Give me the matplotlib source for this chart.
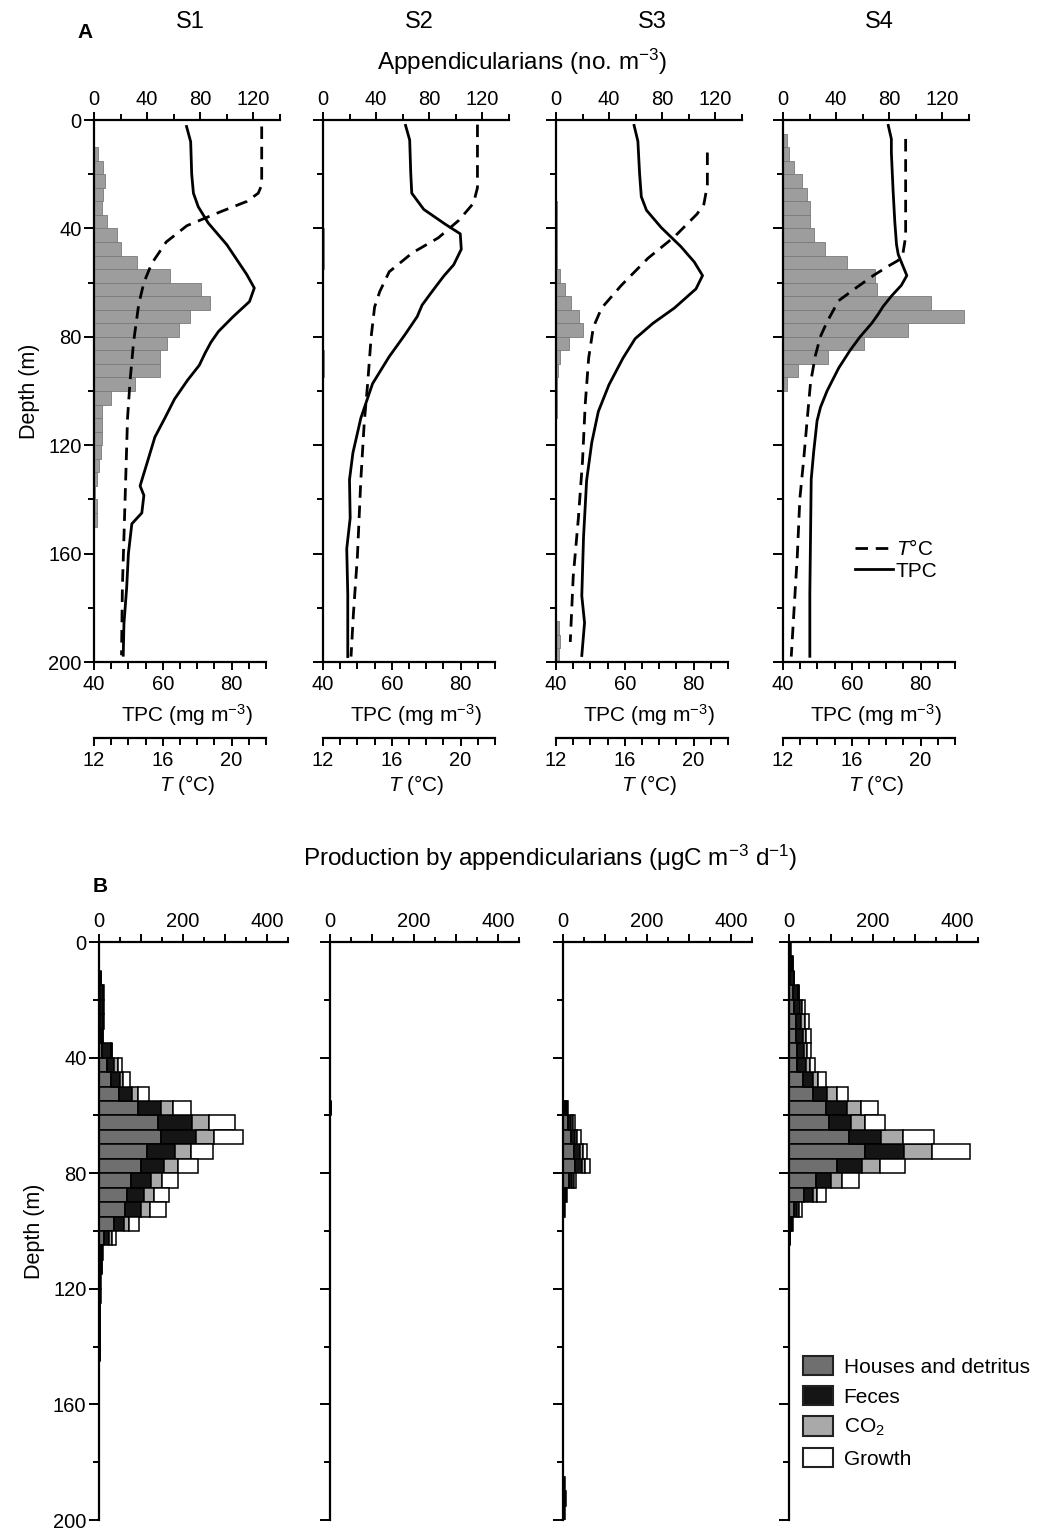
import numpy as np
import matplotlib
matplotlib.use("Agg")
import matplotlib.pyplot as plt
from matplotlib.patches import Patch
from matplotlib.ticker import FixedLocator, FixedFormatter

plt.rcParams['font.family'] = ['Liberation Sans', 'DejaVu Sans']
plt.rcParams['mathtext.fontset'] = 'custom'
plt.rcParams['mathtext.rm'] = 'Liberation Sans'
plt.rcParams['mathtext.it'] = 'Liberation Sans:italic'

W, H = 1049, 1530

# ---- data ----
stations = ["S1", "S2", "S3", "S4"]
bins = np.arange(0, 200, 5)  # 5 m depth bins (top edges)

# Appendicularians (no. m-3) per 5 m bin
s1_app = [0, 0, 3, 7, 8.6, 7, 6, 10, 17, 20.5, 32, 57, 80.5, 87, 72, 64, 55, 50, 50, 31,
          13, 6, 6, 6, 5, 3.5, 2, 1, 2, 2, 0, 0, 0, 0, 0, 0, 0, 0, 0, 0]
s2_app = [0, 0, 0, 0, 0, 0, 0, 0, 0.8, 0.8, 0.8, 0, 0, 0, 0, 0, 0, 0.5, 0.5, 0,
          0, 0, 0, 0, 0, 0, 0, 0, 0, 0, 0, 0, 0, 0, 0, 0, 0, 0, 0, 0]
s3_app = [0, 0, 0, 0, 0, 0, 0.8, 0.8, 0.8, 0.8, 0.8, 3.3, 7, 11.4, 17, 20, 10, 3.3, 1.5, 0.8,
          0.8, 0.8, 0, 0, 0, 0, 0, 0, 0, 0, 0, 0, 0, 0, 0, 0, 0, 2, 3, 2]
s4_app = [0, 2.8, 4.6, 8.4, 14, 17.7, 20.5, 20.5, 23, 31.6, 48, 69, 71, 111.6, 136, 94, 61, 33.7, 11.6, 2.8,
          0, 0, 0, 0, 0, 0, 0, 0, 0, 0, 0, 0, 0, 0, 0, 0, 0, 0, 0, 0]
app = [s1_app, s2_app, s3_app, s4_app]

# TPC (mg m-3) profiles
s1_tpc_z = [2.4, 8, 20, 27, 32, 38, 46, 57, 62, 67, 72.5, 78, 82, 86, 90.5, 96, 103, 110, 117, 125, 135, 138.5, 145, 149, 160, 172.5, 186, 197.5]
s1_tpc = [66.9, 68.1, 68.4, 68.9, 70.3, 73.2, 78.6, 84.4, 86.6, 85.2, 80.5, 76.2, 74.0, 72.3, 70.6, 67.2, 63.4, 60.6, 57.7, 55.8, 53.4, 54.5, 53.9, 51.0, 50.0, 49.5, 48.7, 48.5]
s2_tpc_z = [2, 7.4, 19.4, 27, 33, 38.5, 42, 47.7, 53.4, 57.6, 63.3, 68.3, 72.5, 78.9, 87.4, 97.3, 110, 122.8, 132.7, 146.9, 158.2, 175, 198]
s2_tpc = [64, 65.2, 65.5, 65.8, 69.3, 75.6, 79.9, 80.2, 78, 75.1, 71.7, 68.8, 67.4, 64, 59.2, 54.4, 51, 48.7, 47.7, 47.9, 46.9, 47.2, 47.2]
s3_tpc_z = [2, 7.8, 19.8, 28.3, 33.3, 39.7, 46.7, 52.4, 57.4, 62.3, 69.4, 75, 80.7, 87.8, 97.7, 107.6, 119, 133, 154, 175.6, 185.5, 197.6]
s3_tpc = [62.7, 63.8, 64.3, 64.8, 66.3, 70.6, 76.3, 80.2, 82.6, 80.7, 74.4, 68.2, 63.0, 59.5, 55.4, 52.3, 50.4, 48.9, 48, 47.5, 48.3, 47.5]
s4_tpc_z = [2, 7, 12, 26, 37.6, 46, 49.6, 54, 57.4, 61, 65, 68.8, 71.6, 75, 80, 85, 91.5, 100, 106, 111, 122.7, 132.6, 153.9, 175, 197.9]
s4_tpc = [70.6, 71.5, 71.5, 72, 72.5, 73, 73.5, 74.9, 76, 74.4, 71.5, 69.1, 67.7, 65.8, 62.4, 59.5, 56.2, 52.8, 50.9, 49.9, 48.9, 48.2, 48, 47.8, 47.8]
tpc_z = [s1_tpc_z, s2_tpc_z, s3_tpc_z, s4_tpc_z]
tpc = [s1_tpc, s2_tpc, s3_tpc, s4_tpc]

# Temperature (deg C) profiles
s1_t_z = [2.4, 24, 27, 30, 34, 39, 45, 53, 60, 68, 82, 96, 110, 131, 152, 172.5, 197.5]
s1_t = [21.75, 21.75, 21.55, 20.9, 19.3, 17.4, 16.2, 15.35, 14.9, 14.6, 14.3, 14.1, 13.95, 13.85, 13.75, 13.65, 13.6]
s2_t_z = [1.7, 25, 30.7, 37, 43.5, 49, 56, 63.3, 69, 80, 97, 111.5, 132.7, 161, 182, 198]
s2_t = [20.98, 20.98, 20.75, 19.9, 18.7, 17.2, 15.85, 15.3, 15.0, 14.8, 14.6, 14.4, 14.2, 14.0, 13.77, 13.63]
s3_t_z = [12, 24, 31, 34.7, 43, 51, 61, 69.4, 76.5, 87.8, 104.8, 126, 147, 168.6, 192.6]
s3_t = [20.8, 20.8, 20.6, 20.2, 18.9, 17.35, 15.8, 14.65, 14.17, 13.9, 13.7, 13.54, 13.3, 13.0, 12.83]
s4_t_z = [7, 43, 49, 51.8, 54, 57.4, 61.7, 66.7, 74.5, 80, 87, 97, 111, 125.5, 139.7, 161, 182, 198]
s4_t = [19.13, 19.13, 18.98, 18.7, 18.1, 17.25, 16.3, 15.23, 14.56, 14.17, 13.88, 13.6, 13.4, 13.2, 12.98, 12.83, 12.63, 12.48]
t_z = [s1_t_z, s2_t_z, s3_t_z, s4_t_z]
temp = [s1_t, s2_t, s3_t, s4_t]

# Production (ugC m-3 d-1) per 5 m bin
s1_houses = [0, 0, 1, 2, 2, 2, 2, 8, 20, 29, 48, 94, 141, 147, 115, 99, 77, 67, 63, 36,
             12, 3, 2, 1, 1, 1, 1, 0.5, 0.5, 0, 0.5, 0, 0, 0, 0, 0, 0, 0, 0.5, 0]
s1_feces = [0.5, 0.5, 3, 7, 7, 7, 6, 21, 16, 20, 30, 53, 81, 83, 67, 56, 46, 40, 38, 24,
            12, 4, 3, 2, 2, 2, 1, 1, 1, 0.5, 0.5, 0, 0, 0.5, 0, 0.5, 0, 0, 0.5, 0]
s1_co2 = [0, 0, 0, 1, 1, 1, 1, 1, 9, 8, 16, 29, 41, 44, 36, 32, 26, 24, 21, 12,
          8, 1, 1, 0.5, 0.5, 0, 0, 0, 0, 0, 0, 0, 0, 0, 0, 0, 0, 0, 0, 0]
s1_growth = [0, 0, 0, 1, 1, 1, 1, 1, 9, 16, 24, 44, 60, 69, 53, 48, 40, 36, 37, 24,
             9, 2, 1, 0.5, 0.5, 0, 0, 0, 0, 0, 0, 0, 0, 0, 0, 0, 0, 0, 0, 0]
s2_houses = [0, 0, 0, 0, 0, 0, 0, 0, 0, 0, 0.5, 1, 0.5, 0, 0, 0, 0, 0, 0, 0,
             0, 0, 0, 0, 0, 0, 0, 0, 0, 0, 0, 0, 0, 0, 0, 0, 0, 0, 0, 0]
s2_feces = [0, 0, 0, 0, 0, 0, 0, 0, 0, 0, 0.5, 1, 0.5, 0, 0, 0, 0, 0, 0, 0,
            0, 0, 0, 0, 0, 0, 0, 0, 0, 0, 0, 0, 0, 0, 0, 0, 0, 0, 0, 0]
s2_co2 = [0] * 40
s2_growth = [0] * 40
s3_houses = [0, 0, 0, 0, 0, 0, 0, 0, 0, 0, 0, 5, 12, 18, 26, 29, 14, 4, 2, 0,
             0, 0, 0, 0, 0, 0, 0, 0, 0, 0, 0, 0, 0, 0, 0, 0, 0, 2, 3, 2]
s3_feces = [0, 0, 0, 0, 0, 0, 0, 0, 0, 0, 0, 3, 7, 11, 14, 16, 8, 3, 1, 0,
            0, 0, 0, 0, 0, 0, 0, 0, 0, 0, 0, 0, 0, 0, 0, 0, 0, 1, 2, 1]
s3_co2 = [0, 0, 0, 0, 0, 0, 0, 0, 0, 0, 0, 2, 4, 5, 8, 8, 4, 1, 0.5, 0,
          0, 0, 0, 0, 0, 0, 0, 0, 0, 0, 0, 0, 0, 0, 0, 0, 0, 0.5, 0.5, 0.5]
s3_growth = [0, 0, 0, 0, 0, 0, 0, 0, 0, 0, 0, 2, 5, 8, 10, 12, 6, 2, 0.5, 0,
             0, 0, 0, 0, 0, 0, 0, 0, 0, 0, 0, 0, 0, 0, 0, 0, 0, 0.5, 0.5, 0.5]
s4_houses = [1, 2, 3, 9, 13, 16, 17, 19, 19, 33, 57, 89, 95, 143, 180, 114, 65, 35, 12, 4,
             1, 0, 0, 0, 0, 0, 0, 0, 0, 0, 0, 0, 0, 0, 0, 0, 0, 0, 0, 0]
s4_feces = [2, 6, 8, 13, 12, 13, 16, 16, 22, 24, 34, 50, 52, 77, 94, 60, 36, 21, 8, 3,
            1, 0, 0, 0, 0, 0, 0, 0, 0, 0, 0, 0, 0, 0, 0, 0, 0, 0, 0, 0]
s4_co2 = [0.5, 1, 1, 1, 6, 8, 8, 9, 8, 12, 23, 32, 35, 52, 67, 43, 26, 11, 4, 1,
          0.5, 0, 0, 0, 0, 0, 0, 0, 0, 0, 0, 0, 0, 0, 0, 0, 0, 0, 0, 0]
s4_growth = [0.5, 1, 1, 1, 6, 10, 12, 9, 14, 18, 26, 41, 47, 73, 90, 60, 40, 22, 6, 2,
             0.5, 0, 0, 0, 0, 0, 0, 0, 0, 0, 0, 0, 0, 0, 0, 0, 0, 0, 0, 0]
prod = [
    [s1_houses, s1_feces, s1_co2, s1_growth],
    [s2_houses, s2_feces, s2_co2, s2_growth],
    [s3_houses, s3_feces, s3_co2, s3_growth],
    [s4_houses, s4_feces, s4_co2, s4_growth],
]
prod_labels = ["Houses and detritus", "Feces", "CO$_2$", "Growth"]
prod_colors = ["#6f6f6f", "#151515", "#a9a9a9", "#ffffff"]

# ---- layout (pixels) ----
a_left = [94, 323, 556, 783]
a_top, a_h, a_w = 120, 542, 186
b_left = [99, 330, 563, 789]
b_top, b_h, b_w = 942, 578, 189

FS = 14.5


def px_axes(left, top, width, height):
    return fig.add_axes([left / W, 1 - (top + height) / H, width / W, height / H])


def depth_axis(ax, labels):
    ax.set_ylim(200, 0)
    ax.yaxis.set_major_locator(FixedLocator([0, 40, 80, 120, 160, 200]))
    ax.yaxis.set_minor_locator(FixedLocator([20, 60, 100, 140, 180]))
    ax.tick_params(axis='y', which='both', direction='out', width=1.4, labelsize=FS,
                   left=True, right=False, labelleft=labels, pad=2)
    ax.tick_params(axis='y', which='major', length=7)
    ax.tick_params(axis='y', which='minor', length=4)


fig = plt.figure(figsize=(W / 100, H / 100), dpi=100)

lines_for_legend = None
for i in range(4):
    ax = px_axes(a_left[i], a_top, a_w, a_h)
    ax_tpc = ax.twiny()
    ax_t = ax.twiny()

    ax.barh(bins, app[i], height=5, align='edge', color='#9d9d9d',
            edgecolor='#7a7a7a', linewidth=0.6)
    ax.set_xlim(0, 140)
    ax.xaxis.tick_top()
    ax.xaxis.set_major_locator(FixedLocator([0, 40, 80, 120]))
    ax.xaxis.set_minor_locator(FixedLocator([20, 60, 100, 140]))
    ax.tick_params(axis='x', which='both', direction='out', width=1.4, labelsize=FS,
                   top=True, bottom=False, labeltop=True, labelbottom=False, pad=2)
    ax.tick_params(axis='x', which='major', length=6)
    ax.tick_params(axis='x', which='minor', length=4)
    for s in ['right', 'bottom']:
        ax.spines[s].set_visible(False)
    for s in ['left', 'top']:
        ax.spines[s].set_linewidth(1.6)
    depth_axis(ax, i == 0)

    # TPC axis
    lt, = ax_tpc.plot(tpc[i], tpc_z[i], color='black', lw=2.0, solid_joinstyle='round')
    ax_tpc.set_xlim(40, 40 + 50 * a_w / 172)
    ax_tpc.xaxis.set_ticks_position('bottom')
    ax_tpc.xaxis.set_label_position('bottom')
    ax_tpc.xaxis.set_major_locator(FixedLocator([40, 60, 80]))
    ax_tpc.xaxis.set_minor_locator(FixedLocator([45, 50, 55, 65, 70, 75, 85, 90]))
    ax_tpc.tick_params(axis='x', which='both', direction='out', width=1.4, labelsize=FS, pad=3)
    ax_tpc.tick_params(axis='x', which='major', length=6)
    ax_tpc.tick_params(axis='x', which='minor', length=5)
    for s in ['right', 'top', 'left']:
        ax_tpc.spines[s].set_visible(False)
    ax_tpc.spines['bottom'].set_bounds(40, 90)
    ax_tpc.spines['bottom'].set_linewidth(1.6)
    ax_tpc.set_xlabel("TPC (mg m$^{-3}$)", fontsize=FS + 0.5, labelpad=6)

    # Temperature axis
    ld, = ax_t.plot(temp[i], t_z[i], color='black', lw=2.0, linestyle=(0, (4.5, 2.8)))
    ax_t.set_xlim(12, 12 + 10 * a_w / 172)
    ax_t.xaxis.set_ticks_position('bottom')
    ax_t.xaxis.set_label_position('bottom')
    ax_t.spines['bottom'].set_position(('outward', 55))
    ax_t.xaxis.set_major_locator(FixedLocator([12, 16, 20]))
    ax_t.xaxis.set_minor_locator(FixedLocator([13, 14, 15, 17, 18, 19, 21, 22]))
    ax_t.tick_params(axis='x', which='both', direction='out', width=1.4, labelsize=FS, pad=3)
    ax_t.tick_params(axis='x', which='major', length=6)
    ax_t.tick_params(axis='x', which='minor', length=5)
    for s in ['right', 'top', 'left']:
        ax_t.spines[s].set_visible(False)
    ax_t.spines['bottom'].set_bounds(12, 22)
    ax_t.spines['bottom'].set_linewidth(1.6)
    ax_t.set_xlabel("$T$ (°C)", fontsize=FS + 0.5, labelpad=2)

    if i == 0:
        ax.set_ylabel("Depth (m)", fontsize=FS + 1, labelpad=6)
    if i == 3:
        lines_for_legend = (ld, lt)

    fig.text((a_left[i] + 96) / W, 1 - 22 / H, stations[i], fontsize=17, ha='center', va='center')

fig.legend(lines_for_legend, ["$T$°C", "TPC"], loc='center left',
           bbox_to_anchor=(855 / W, 1 - 560 / H), frameon=False, fontsize=15,
           handlelength=1.8, handletextpad=0.15, labelspacing=0.1, borderpad=0, borderaxespad=0)

fig.text(85 / W, 1 - 32 / H, "A", fontsize=15, fontweight='bold', ha='center', va='center')
fig.text(522 / W, 1 - 62 / H, "Appendicularians (no. m$^{-3}$)", fontsize=17.5, ha='center', va='center')

# ---- panel B ----
for i in range(4):
    ax = px_axes(b_left[i], b_top, b_w, b_h)
    left = np.zeros(len(bins))
    for comp, col in zip(prod[i], prod_colors):
        vals = np.array(comp, dtype=float)
        ax.barh(bins, vals, left=left, height=5, align='edge', color=col,
                edgecolor='black', linewidth=1.1)
        left = left + vals
    ax.set_xlim(0, 450)
    ax.xaxis.tick_top()
    ax.xaxis.set_major_locator(FixedLocator([0, 100, 200, 300, 400]))
    ax.xaxis.set_major_formatter(FixedFormatter(["0", "", "200", "", "400"]))
    ax.xaxis.set_minor_locator(FixedLocator([50, 150, 250, 350, 450]))
    ax.tick_params(axis='x', which='both', direction='out', width=1.4, labelsize=FS,
                   top=True, bottom=False, labeltop=True, labelbottom=False, pad=2)
    ax.tick_params(axis='x', which='major', length=6)
    ax.tick_params(axis='x', which='minor', length=3.5)
    for s in ['right', 'bottom']:
        ax.spines[s].set_visible(False)
    for s in ['left', 'top']:
        ax.spines[s].set_linewidth(1.6)
    depth_axis(ax, i == 0)
    if i == 0:
        ax.set_ylabel("Depth (m)", fontsize=FS + 1, labelpad=6)

handles = [Patch(facecolor=c, edgecolor='#222222', linewidth=1.5) for c in prod_colors]
fig.legend(handles, prod_labels, loc='upper left', bbox_to_anchor=(803 / W, 1 - 1356 / H),
           frameon=False, fontsize=15, handlelength=1.45, handleheight=1.05,
           labelspacing=0.45, handletextpad=0.5, borderpad=0, borderaxespad=0)

fig.text(100 / W, 1 - 886 / H, "B", fontsize=15, fontweight='bold', ha='center', va='center')
fig.text(550 / W, 1 - 858 / H, "Production by appendicularians (μgC m$^{-3}$ d$^{-1}$)",
         fontsize=17.5, ha='center', va='center')

fig.savefig("out.png", dpi=100)
